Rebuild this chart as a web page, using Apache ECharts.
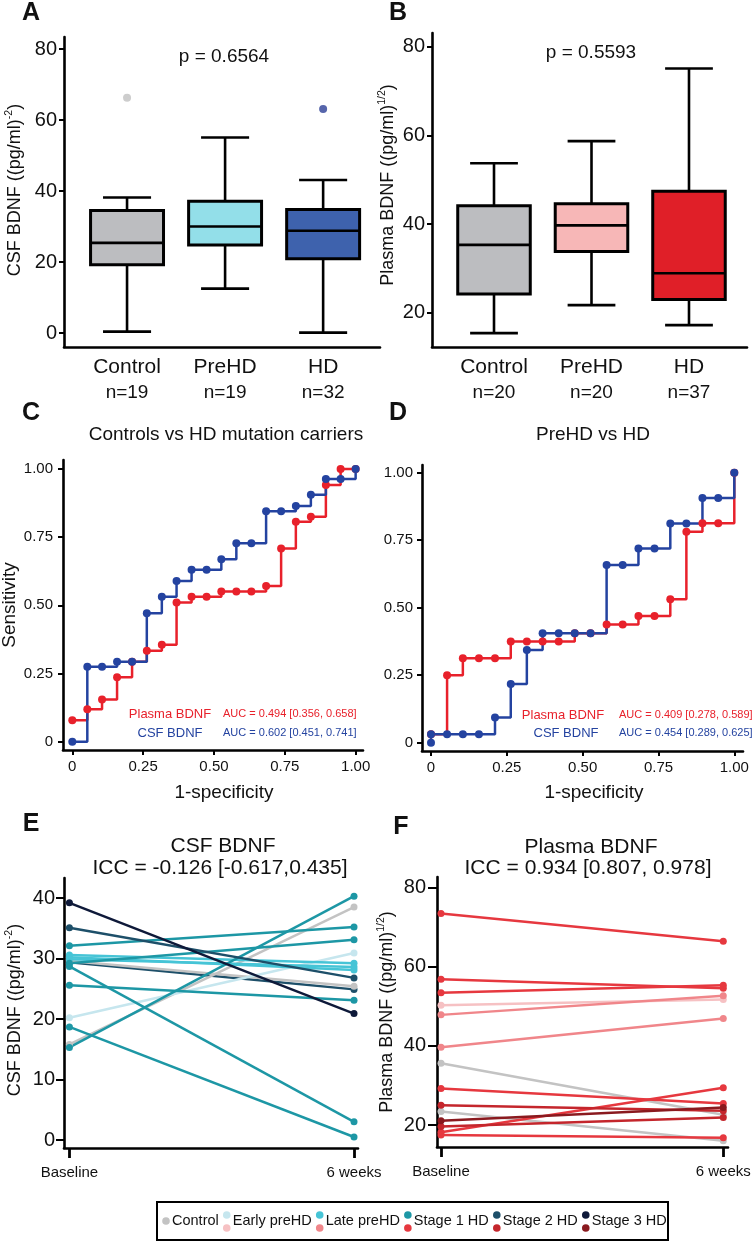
<!DOCTYPE html>
<html><head><meta charset="utf-8">
<script src="https://cdn.jsdelivr.net/npm/echarts@6/dist/echarts.min.js"></script>
<style>html,body{margin:0;padding:0;background:#fff}#c{width:755px;height:1243px}</style>
</head><body><div id="c"></div>
<script>
const FONT = "'Liberation Sans', Arial, Helvetica, sans-serif";

// ---------- Panel A / B : box plots ----------
const boxCategories = ['Control', 'PreHD', 'HD'];
const boxPositions = [1, 2, 3];
const csfN = [19, 19, 32];
const plasmaN = [20, 20, 37];
// [low whisker, Q1, median, Q3, high whisker]
const csfBoxControl = [0.4, 19.2, 25.4, 34.5, 38.2];
const csfBoxPreHD = [12.5, 24.8, 30.0, 37.1, 55.1];
const csfBoxHD = [0.1, 20.9, 28.8, 34.8, 43.1];
const csfOutlierX = [1, 3];
const csfOutlierY = [66.3, 63.1];
const plasmaBoxControl = [15.4, 24.2, 35.3, 44.1, 53.7];
const plasmaBoxPreHD = [21.7, 33.8, 39.7, 44.6, 58.7];
const plasmaBoxHD = [17.2, 23.0, 28.9, 47.4, 75.1];
const csfBoxTicks = [0, 20, 40, 60, 80];
const plasmaBoxTicks = [20, 40, 60, 80];
const csfP = 'p = 0.6564';
const plasmaP = 'p = 0.5593';

// ---------- Panel C / D : ROC curves ----------
const rocTicks = [0, 0.25, 0.5, 0.75, 1];
const rocCPlasmaX = [0, 0.053, 0.105, 0.158, 0.211, 0.263, 0.316, 0.368, 0.421, 0.474, 0.526, 0.579, 0.632, 0.684, 0.737, 0.789, 0.842, 0.895, 0.947, 1.0];
const rocCPlasmaY = [0.079, 0.119, 0.155, 0.236, 0.293, 0.333, 0.355, 0.510, 0.531, 0.531, 0.551, 0.551, 0.551, 0.571, 0.708, 0.806, 0.825, 0.941, 1.0, 1.0];
const rocCCsfX = [0, 0.053, 0.105, 0.158, 0.211, 0.263, 0.316, 0.368, 0.421, 0.474, 0.526, 0.579, 0.632, 0.684, 0.737, 0.789, 0.842, 0.895, 0.947, 1.0];
const rocCCsfY = [0, 0.275, 0.275, 0.293, 0.293, 0.471, 0.531, 0.589, 0.630, 0.630, 0.669, 0.727, 0.727, 0.845, 0.845, 0.864, 0.905, 0.963, 0.963, 1.0];
const rocDPlasmaX = [0, 0.053, 0.105, 0.158, 0.211, 0.263, 0.316, 0.368, 0.421, 0.474, 0.526, 0.579, 0.632, 0.684, 0.737, 0.789, 0.842, 0.895, 0.947, 1.0];
const rocDPlasmaY = [0.031, 0.25, 0.313, 0.313, 0.313, 0.375, 0.375, 0.375, 0.375, 0.405, 0.405, 0.438, 0.438, 0.469, 0.469, 0.531, 0.781, 0.813, 0.813, 1.0];
const rocDCsfX = [0, 0, 0.053, 0.105, 0.158, 0.211, 0.263, 0.316, 0.368, 0.421, 0.474, 0.526, 0.579, 0.632, 0.684, 0.737, 0.789, 0.842, 0.895, 0.947, 1.0];
const rocDCsfY = [0, 0.031, 0.031, 0.031, 0.031, 0.093, 0.217, 0.343, 0.405, 0.405, 0.405, 0.405, 0.658, 0.658, 0.719, 0.719, 0.812, 0.812, 0.906, 0.906, 1.0];
const rocCTitle = 'Controls vs HD mutation carriers';
const rocDTitle = 'PreHD vs HD';
const rocCAuc = ['AUC = 0.494 [0.356, 0.658]', 'AUC = 0.602 [0.451, 0.741]'];
const rocDAuc = ['AUC = 0.409 [0.278, 0.589]', 'AUC = 0.454 [0.289, 0.625]'];

// ---------- Panel E / F : test-retest ----------
const timeLabels = ['Baseline', '6 weeks'];
const timeX = [0, 1];
const csfGroup = ['Stage 2 HD', 'Control', 'Control', 'Early preHD', 'Late preHD', 'Late preHD', 'Late preHD', 'Stage 1 HD', 'Stage 1 HD', 'Stage 1 HD', 'Stage 1 HD', 'Stage 1 HD', 'Stage 1 HD', 'Stage 2 HD', 'Stage 3 HD'];
const csfBaseline = [29.4, 29.6, 15.8, 20.2, 30.6, 30.2, 29.9, 32.1, 29.2, 28.7, 25.6, 18.7, 15.3, 35.1, 39.2];
const csfWeek6 = [24.9, 25.4, 38.5, 30.9, 29.2, 28.1, 28.6, 35.2, 33.1, 3.0, 23.1, 0.5, 40.3, 26.8, 20.9];
const csfTicks = [0, 10, 20, 30, 40];
const plasmaGroup = ['Control', 'Control', 'Early preHD', 'Late preHD', 'Late preHD', 'Stage 1 HD', 'Stage 1 HD', 'Stage 1 HD', 'Stage 1 HD', 'Stage 1 HD', 'Stage 1 HD', 'Stage 2 HD', 'Stage 2 HD', 'Stage 3 HD'];
const plasmaBaseline = [35.6, 23.4, 50.2, 47.8, 39.6, 73.4, 56.8, 53.4, 29.2, 18.2, 17.5, 25.0, 19.6, 21.1];
const plasmaWeek6 = [22.6, 16.0, 51.7, 52.6, 46.9, 66.4, 54.5, 55.3, 25.4, 29.4, 16.8, 23.6, 21.9, 24.4];
const plasmaTicks = [20, 40, 60, 80];
const legendLabels = ['Control', 'Early preHD', 'Late preHD', 'Stage 1 HD', 'Stage 2 HD', 'Stage 3 HD'];

// ---------- styles ----------
const csfColors = {'Control':'#c3c3c3','Early preHD':'#c6e6ee','Late preHD':'#46c4d6','Stage 1 HD':'#1d97a5','Stage 2 HD':'#1d4f69','Stage 3 HD':'#0e1939'};
const plasmaColors = {'Control':'#c3c3c3','Early preHD':'#f6c1c3','Late preHD':'#f0868a','Stage 1 HD':'#e6383f','Stage 2 HD':'#c4262c','Stage 3 HD':'#8a1a1f'};
const csfBoxColors = ['#bcbdc0', '#93dfe9', '#3e62ad'];
const plasmaBoxColors = ['#bcbdc0', '#f7b7b7', '#e01f28'];
const outlierColors = ['#c0c0c0', '#2c3e96'];
const RED = '#e8212b', BLUE = '#2443a0';

function zip(xs, ys) { return xs.map((x, i) => [x, ys[i]]); }

function valAxis(grid, min, max, ticks, opt) {
  opt = opt || {};
  return {
    type: 'value', gridIndex: grid, min: min, max: max,
    splitLine: {show: false},
    axisLine: {show: true, onZero: false, lineStyle: {color: '#000', width: 2.6}},
    axisTick: {show: opt.tick !== false, customValues: ticks, length: opt.tickLen || 5, lineStyle: {color: '#000', width: opt.tickW || 2}},
    axisLabel: Object.assign({show: true, customValues: ticks, fontFamily: FONT, color: '#111', fontSize: opt.fs || 15, margin: opt.margin || 8,
      formatter: opt.fmt || (v => String(v))}, opt.label || {})
  };
}

function renderBox(params, api) {
  const x = api.value(0);
  const lo = api.value(1), q1 = api.value(2), md = api.value(3), q3 = api.value(4), hi = api.value(5);
  const c = api.coord([x, md]);
  const hw = api.coord([x + 0.372, md])[0] - c[0];
  const cw = api.coord([x + 0.245, md])[0] - c[0];
  const yLo = api.coord([x, lo])[1], yQ1 = api.coord([x, q1])[1], yQ3 = api.coord([x, q3])[1], yHi = api.coord([x, hi])[1];
  const st = {stroke: '#000', lineWidth: 2.6, fill: null};
  return {type: 'group', children: [
    {type: 'line', shape: {x1: c[0], y1: yHi, x2: c[0], y2: yQ3}, style: st},
    {type: 'line', shape: {x1: c[0], y1: yQ1, x2: c[0], y2: yLo}, style: st},
    {type: 'line', shape: {x1: c[0] - cw, y1: yHi, x2: c[0] + cw, y2: yHi}, style: st},
    {type: 'line', shape: {x1: c[0] - cw, y1: yLo, x2: c[0] + cw, y2: yLo}, style: st},
    {type: 'rect', shape: {x: c[0] - hw, y: yQ3, width: 2 * hw, height: yQ1 - yQ3}, style: {fill: api.visual('color'), stroke: '#000', lineWidth: 3}},
    {type: 'line', shape: {x1: c[0] - hw, y1: c[1], x2: c[0] + hw, y2: c[1]}, style: st}
  ]};
}

function boxData(boxes, colors) {
  return boxes.map((b, i) => ({value: [boxPositions[i]].concat(b), itemStyle: {color: colors[i]}}));
}

const catLabel = (ns) => ({
  fs: 21, margin: 8, tick: false,
  fmt: v => '{a|' + boxCategories[v - 1] + '}\n{b|n=' + ns[v - 1] + '}',
  label: {rich: {a: {fontSize: 21, lineHeight: 25, fontFamily: FONT, color: '#111'}, b: {fontSize: 19, lineHeight: 26, fontFamily: FONT, color: '#111'}}}
});
const rocFmt = v => v === 0 ? '0' : v.toFixed(2);
const timeFmt = v => timeLabels[timeX.indexOf(v)];

const series = [];
series.push({type: 'custom', xAxisIndex: 0, yAxisIndex: 0, renderItem: renderBox, encode: {x: 0, y: [1, 2, 3, 4, 5]},
  data: boxData([csfBoxControl, csfBoxPreHD, csfBoxHD], csfBoxColors)});
series.push({type: 'scatter', xAxisIndex: 0, yAxisIndex: 0, symbolSize: 8,
  data: csfOutlierX.map((x, i) => ({value: [x, csfOutlierY[i]], itemStyle: {color: outlierColors[i]}}))});
series.push({type: 'custom', xAxisIndex: 1, yAxisIndex: 1, renderItem: renderBox, encode: {x: 0, y: [1, 2, 3, 4, 5]},
  data: boxData([plasmaBoxControl, plasmaBoxPreHD, plasmaBoxHD], plasmaBoxColors)});

function rocSeries(ax, xs, ys, color) {
  return {type: 'line', xAxisIndex: ax, yAxisIndex: ax, step: 'end', data: zip(xs, ys), showSymbol: true, showAllSymbol: true,
    symbol: 'circle', symbolSize: 8, lineStyle: {color: color, width: 2.5}, itemStyle: {color: color}};
}
series.push(rocSeries(2, rocCPlasmaX, rocCPlasmaY, RED));
series.push(rocSeries(2, rocCCsfX, rocCCsfY, BLUE));
series.push(rocSeries(3, rocDPlasmaX, rocDPlasmaY, RED));
series.push(rocSeries(3, rocDCsfX, rocDCsfY, BLUE));

function pairSeries(ax, b, w, g, colors) {
  return b.map((v, i) => ({type: 'line', xAxisIndex: ax, yAxisIndex: ax, data: zip(timeX, [v, w[i]]),
    symbol: 'circle', symbolSize: 7, showSymbol: true, lineStyle: {color: colors[g[i]], width: 2.5}, itemStyle: {color: colors[g[i]]}}));
}
pairSeries(4, csfBaseline, csfWeek6, csfGroup, csfColors).forEach(s => series.push(s));
pairSeries(5, plasmaBaseline, plasmaWeek6, plasmaGroup, plasmaColors).forEach(s => series.push(s));

// ---------- graphic texts ----------
function txt(x, y, text, size, o) {
  o = o || {};
  return {type: 'text', x: x, y: y, rotation: o.rot || 0, z: 100,
    style: Object.assign({text: text, fontSize: size, fontFamily: FONT, fill: o.color || '#111', align: o.align || 'center', verticalAlign: 'middle', fontWeight: o.bold ? 'bold' : 'normal'}, o.style || {})};
}
function yTitle(x, y, main, sup) {
  return {type: 'text', x: x, y: y, rotation: Math.PI / 2, z: 100,
    style: {text: '{m|' + main + '}{s|' + sup + '}{m|)}', align: 'center', verticalAlign: 'middle', fill: '#111', fontFamily: FONT,
      rich: {m: {fontSize: 18, lineHeight: 22, fontFamily: FONT, fill: '#111'}, s: {fontSize: 10.5, lineHeight: 12, verticalAlign: 'top', fontFamily: FONT, fill: '#111'}}}};
}

const graphics = [
  txt(31, 13, 'A', 25, {bold: true}), txt(398, 13, 'B', 25, {bold: true}),
  txt(31, 413, 'C', 25, {bold: true}), txt(398, 413, 'D', 25, {bold: true}),
  txt(31, 824, 'E', 25, {bold: true}), txt(401, 827, 'F', 25, {bold: true}),
  txt(224, 57, csfP, 19), txt(591, 53, plasmaP, 19),
  yTitle(15, 190, 'CSF BDNF ((pg/ml)', '-2'), yTitle(388, 185, 'Plasma BDNF ((pg/ml)', '1/2'),
  txt(226, 435, rocCTitle, 19), txt(593, 435, rocDTitle, 19),
  txt(10, 605, 'Sensitivity', 19, {rot: Math.PI / 2}),
  txt(224, 793, '1-specificity', 19), txt(594, 793, '1-specificity', 19),
  txt(170, 714, 'Plasma BDNF', 13, {color: RED}), txt(170, 733, 'CSF BDNF', 13, {color: BLUE}),
  txt(223, 714, rocCAuc[0], 11, {color: RED, align: 'left'}), txt(223, 733, rocCAuc[1], 11, {color: BLUE, align: 'left'}),
  txt(563, 715, 'Plasma BDNF', 13, {color: RED}), txt(566, 733, 'CSF BDNF', 13, {color: BLUE}),
  txt(619, 715, rocDAuc[0], 11, {color: RED, align: 'left'}), txt(619, 733, rocDAuc[1], 11, {color: BLUE, align: 'left'}),
  txt(223, 846, 'CSF BDNF', 21), txt(220, 868, 'ICC = -0.126 [-0.617,0.435]', 21),
  txt(591, 847, 'Plasma BDNF', 21), txt(588, 868, 'ICC = 0.934 [0.807, 0.978]', 21),
  yTitle(15, 1010, 'CSF BDNF ((pg/ml)', '-2'), yTitle(387, 1012, 'Plasma BDNF ((pg/ml)', '1/2'),
  {type: 'rect', shape: {x: 157, y: 1202, width: 511, height: 38}, style: {fill: '#fff', stroke: '#000', lineWidth: 2}, z: 90}
];

// legend entries
const mctx = document.createElement('canvas').getContext('2d');
mctx.font = "14.5px 'Liberation Sans', Arial";
let lx = 166;
legendLabels.forEach(lab => {
  if (lab === 'Control') {
    graphics.push({type: 'circle', shape: {cx: lx, cy: 1221, r: 3.8}, style: {fill: csfColors[lab]}, z: 100});
  } else {
    graphics.push({type: 'circle', shape: {cx: lx, cy: 1215, r: 3.8}, style: {fill: csfColors[lab]}, z: 100});
    graphics.push({type: 'circle', shape: {cx: lx, cy: 1228, r: 3.8}, style: {fill: plasmaColors[lab]}, z: 100});
  }
  const tx = lx + 6;
  graphics.push(txt(tx, 1221, lab, 14.5, {align: 'left'}));
  lx = tx + mctx.measureText(lab).width + 8;
});

const option = {
  animation: false,
  backgroundColor: '#fff',
  grid: [
    {left: 64, top: 37, width: 316, height: 310, outerBoundsMode: 'none'},
    {left: 432, top: 33, width: 315, height: 314, outerBoundsMode: 'none'},
    {left: 63, top: 460, width: 300, height: 290, outerBoundsMode: 'none'},
    {left: 422, top: 465, width: 321, height: 286, outerBoundsMode: 'none'},
    {left: 64, top: 878, width: 294, height: 270, outerBoundsMode: 'none'},
    {left: 437, top: 877, width: 291, height: 270, outerBoundsMode: 'none'}
  ],
  xAxis: [
    valAxis(0, 0.357, 3.58, boxPositions, catLabel(csfN)),
    valAxis(1, 0.364, 3.595, boxPositions, catLabel(plasmaN)),
    valAxis(2, -0.0328, 1.026, rocTicks, {fs: 15, margin: 9, fmt: rocFmt}),
    valAxis(3, -0.0297, 1.0287, rocTicks, {fs: 15, margin: 9, fmt: rocFmt}),
    valAxis(4, -0.019, 1.014, timeX, {fs: 15, margin: 17, tickLen: 10, tickW: 2.8, fmt: timeFmt}),
    valAxis(5, -0.0142, 1.0167, timeX, {fs: 15, margin: 17, tickLen: 10, tickW: 2.8, fmt: timeFmt})
  ],
  yAxis: [
    valAxis(0, -3.94, 83.4, csfBoxTicks, {fs: 20, margin: 7}),
    valAxis(1, 12.26, 83.1, plasmaBoxTicks, {fs: 20, margin: 7}),
    valAxis(2, -0.0304, 1.0326, rocTicks, {fs: 15, margin: 10, fmt: rocFmt}),
    valAxis(3, -0.0307, 1.0286, rocTicks, {fs: 15, margin: 9, fmt: rocFmt}),
    valAxis(4, -1.32, 43.31, csfTicks, {fs: 20, margin: 9, tickLen: 8}),
    valAxis(5, 14.45, 82.6, plasmaTicks, {fs: 20, margin: 11, tickLen: 9})
  ],
  series: series,
  graphic: graphics
};

const chart = echarts.init(document.getElementById('c'));
chart.setOption(option);
</script>
</body></html>
